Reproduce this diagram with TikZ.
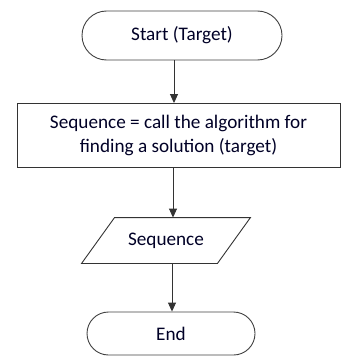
\documentclass[tikz,border=0pt]{standalone}
\usepackage{fontspec}
\setmainfont{Carlito}
\usetikzlibrary{arrows.meta,calc}
\begin{document}
\begin{tikzpicture}[x=1pt,y=-1pt,
  line width=0.9pt,
  every node/.style={font=\fontsize{19.2}{24}\selectfont, text=black!85!blue},
  term/.style={draw=black!75, rounded corners=21.5pt, minimum height=43pt, inner sep=0pt},
  procbox/.style={draw=black!80, minimum width=323pt, minimum height=64pt, align=center, inner sep=0pt},
  conn/.style={draw=black!80, -{Triangle[length=9pt,width=8pt]}}
]
\useasboundingbox (0,0) rectangle (341,356);
\node[term, rounded corners=24.5pt, minimum width=200pt, minimum height=49pt] (start) at (182,35.5) {Start (Target)};
\node[procbox] (box) at (178.5,135.5) {Sequence = call the algorithm for\\finding a solution (target)};
\node[minimum width=135pt, minimum height=45pt, inner sep=0pt] (seq) at (166,240.5) {Sequence};
\draw[black!80] ($(seq.north west)+(16.5,0)$) -- ($(seq.north east)+(16.5,0)$)
  -- ($(seq.south east)+(-16.5,0)$) -- ($(seq.south west)+(-16.5,0)$) -- cycle;
\node[term, minimum width=168pt] (end) at (171,333.5) {End};
\coordinate (a) at (174,0);
\coordinate (b) at (173,0);
\coordinate (c) at (172,0);
\draw[conn] (start.south -| a) -- (box.north -| a);
\draw[conn] (box.south -| b) -- (seq.north -| b);
\draw[conn] (seq.south -| c) -- (end.north -| c);
\end{tikzpicture}
\end{document}
